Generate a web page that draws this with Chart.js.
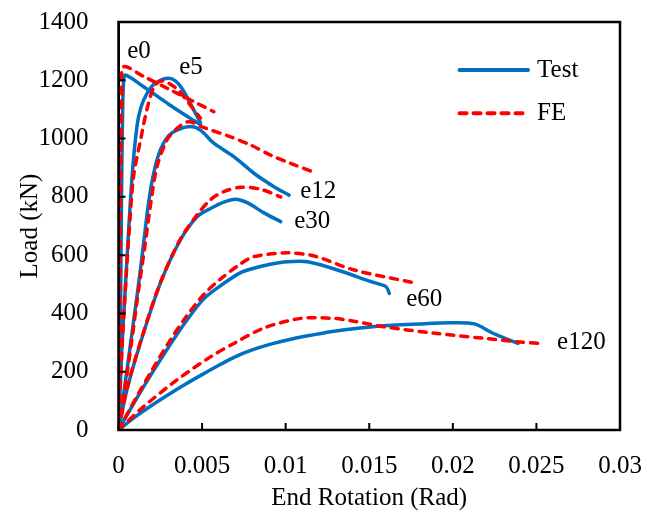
<!DOCTYPE html>
<html><head><meta charset="utf-8">
<script src="https://cdn.jsdelivr.net/npm/chart.js@4.4.0/dist/chart.umd.min.js"></script>
<style>html,body{margin:0;padding:0;background:#fff;}</style>
</head><body>
<canvas id="c" width="653" height="519"></canvas>
<script>
// ---- data (End Rotation [rad], Load [kN]) ----
const specimens = ['e0', 'e5', 'e12', 'e30', 'e60', 'e120'];
const seriesNames = ['Test', 'FE'];
const xTicks = [0, 0.005, 0.01, 0.015, 0.02, 0.025, 0.03];
const yTicks = [0, 200, 400, 600, 800, 1000, 1200, 1400];

const testE0 = [[0,0],[0.0001,300],[0.00015,600],[0.0002,900],[0.00025,1100],[0.0003,1190],[0.0004,1218],[0.0015,1178],[0.003,1118],[0.0045,1062],[0.0049,1048]];
const testE5 = [[0,0],[0.0002,280],[0.0004,480],[0.0006,680],[0.0008,860],[0.001,990],[0.0012,1075],[0.0015,1132],[0.002,1180],[0.0025,1200],[0.003,1207],[0.0034,1198],[0.0038,1172],[0.0043,1120],[0.0049,1055]];
const testE12 = [[0,0],[0.0004,160],[0.0008,330],[0.0012,500],[0.0015,640],[0.0018,780],[0.0021,880],[0.0025,961],[0.003,1010],[0.0035,1029],[0.0043,1041],[0.0049,1029],[0.0057,984],[0.0069,938],[0.0081,881],[0.0093,835],[0.0102,806]];
const testE30 = [[0,0],[0.0005,137],[0.0013,297],[0.0025,503],[0.0037,652],[0.0047,732],[0.0055,760],[0.0063,782],[0.007,792],[0.0077,780],[0.0087,745],[0.0097,715]];
const testE60 = [[0,0],[0.001,100],[0.002,195],[0.003,285],[0.004,370],[0.0051,450],[0.0061,495],[0.0073,540],[0.0081,555],[0.009,568],[0.0101,577],[0.0113,577],[0.0131,549],[0.0151,509],[0.016,492],[0.0162,469]];
const testE120 = [[0,0],[0.001,45],[0.002,85],[0.003,122],[0.004,157],[0.005,190],[0.006,222],[0.007,252],[0.008,275],[0.009,293],[0.0101,309],[0.0115,325],[0.013,340],[0.0155,356],[0.018,364],[0.0199,368],[0.0213,364],[0.0224,332],[0.0239,297]];

const feE0 = [[0,0],[0.00005,300],[0.0001,650],[0.00015,950],[0.0002,1150],[0.0003,1246],[0.0015,1213],[0.003,1170],[0.0045,1127],[0.0057,1092]];
const feE5 = [[0,0],[0.0002,270],[0.0004,470],[0.0006,650],[0.0009,870],[0.0013,990],[0.0017,1100],[0.0021,1175],[0.0025,1197],[0.003,1190],[0.0036,1165],[0.0042,1122],[0.0049,1070]];
const feE12 = [[0,0],[0.0004,150],[0.0008,310],[0.0012,480],[0.0016,640],[0.0019,766],[0.0023,903],[0.0029,995],[0.0035,1035],[0.0042,1058],[0.005,1040],[0.0067,1006],[0.0079,978],[0.0091,943],[0.0103,915],[0.0116,886]];
const feE30 = [[0,0],[0.0005,140],[0.0013,300],[0.0025,505],[0.0037,655],[0.0047,738],[0.0055,790],[0.0063,818],[0.0073,833],[0.0085,826],[0.0097,800]];
const feE60 = [[0,0],[0.001,105],[0.002,205],[0.003,300],[0.004,385],[0.0051,465],[0.0061,518],[0.0073,570],[0.0081,595],[0.0101,608],[0.0117,597],[0.0141,549],[0.0177,505]];
const feE120 = [[0,0],[0.0015,80],[0.0035,172],[0.0055,251],[0.0069,297],[0.0087,350],[0.0109,383],[0.0129,383],[0.0139,375],[0.0159,354],[0.0189,332],[0.0218,315],[0.0238,303],[0.0252,297]];

// annotation anchors (data units) for the specimen labels
const labelX = [0.00123, 0.00434, 0.01195, 0.01159, 0.01829, 0.02769];
const labelY = [1300, 1245, 820, 717, 449, 302];

const testSeries = [testE0, testE5, testE12, testE30, testE60, testE120];
const feSeries = [feE0, feE5, feE12, feE30, feE60, feE120];

const FONT = "'Liberation Serif', 'Times New Roman', serif";
const BLUE = '#0070C0';
const RED = '#FF0000';

const toPts = arr => arr.map(p => ({x: p[0], y: p[1]}));
const datasets = [];
testSeries.forEach((s, i) => datasets.push({
  label: seriesNames[0] + ' ' + specimens[i], legendName: i === 0 ? seriesNames[0] : null,
  data: toPts(s), borderColor: BLUE, borderWidth: 3.5, pointRadius: 0, tension: 0.3,
  fill: false, order: 2, borderCapStyle: 'round', borderJoinStyle: 'round'
}));
feSeries.forEach((s, i) => datasets.push({
  label: seriesNames[1] + ' ' + specimens[i], legendName: i === 0 ? seriesNames[1] : null,
  data: toPts(s), borderColor: RED, borderWidth: 3.5, borderDash: [7, 7], pointRadius: 0, tension: 0.3,
  fill: false, order: 1, borderCapStyle: 'round'
}));

const decor = {
  id: 'decor',
  afterDatasetsDraw(chart) {
    const ctx = chart.ctx, a = chart.chartArea, xs = chart.scales.x, ys = chart.scales.y;
    ctx.save();
    ctx.strokeStyle = '#000'; ctx.lineWidth = 2.5;
    ctx.strokeRect(a.left, a.top, a.right - a.left, a.bottom - a.top);
    ctx.lineWidth = 2;
    ctx.beginPath();
    xTicks.forEach(v => { const px = xs.getPixelForValue(v); ctx.moveTo(px, a.bottom); ctx.lineTo(px, a.bottom - 7); });
    yTicks.forEach(v => { const py = ys.getPixelForValue(v); ctx.moveTo(a.left, py); ctx.lineTo(a.left + 7, py); });
    ctx.stroke();
    // specimen labels
    ctx.fillStyle = '#000'; ctx.font = '25px ' + FONT; ctx.textAlign = 'center'; ctx.textBaseline = 'middle';
    specimens.forEach((t, i) => ctx.fillText(t, xs.getPixelForValue(labelX[i]), ys.getPixelForValue(labelY[i])));
    // legend
    const items = chart.data.datasets.filter(d => d.legendName);
    const lx0 = xs.getPixelForValue(0.0204), lx1 = xs.getPixelForValue(0.0245);
    items.forEach((d, k) => {
      const ly = ys.getPixelForValue(1235 - k * 148);
      ctx.beginPath(); ctx.strokeStyle = d.borderColor; ctx.lineWidth = d.borderWidth + 0.5;
      ctx.lineCap = 'round'; ctx.setLineDash(d.borderDash || []);
      ctx.moveTo(lx0, ly); ctx.lineTo(lx1, ly); ctx.stroke(); ctx.setLineDash([]);
      ctx.textAlign = 'left'; ctx.fillStyle = '#000';
      ctx.fillText(d.legendName, lx1 + 9, ly);
    });
    ctx.restore();
  }
};

new Chart(document.getElementById('c'), {
  type: 'line',
  data: { datasets },
  plugins: [decor],
  options: {
    responsive: false, animation: false, devicePixelRatio: 1,
    layout: { padding: { top: 22, right: 33, left: 0, bottom: 0 } },
    plugins: { legend: { display: false }, tooltip: { enabled: false } },
    scales: {
      x: {
        type: 'linear', min: 0, max: 0.03,
        afterBuildTicks: s => { s.ticks = xTicks.map(v => ({value: v})); },
        afterFit: s => { s.height = 89; s.paddingLeft = 0; s.paddingRight = 0; },
        ticks: { font: { family: FONT, size: 25 }, color: '#000', padding: 13, maxRotation: 0,
          callback: v => String(+(+v).toFixed(4)) },
        grid: { display: false },
        border: { display: true, color: '#000', width: 2 },
        title: { display: true, text: 'End Rotation (Rad)', color: '#000', font: { family: FONT, size: 25 }, padding: { top: 0, bottom: 6 } }
      },
      y: {
        type: 'linear', min: 0, max: 1400,
        afterBuildTicks: s => { s.ticks = yTicks.map(v => ({value: v})); },
        afterFit: s => { s.width = 118.5; s.paddingTop = 0; s.paddingBottom = 0; },
        ticks: { font: { family: FONT, size: 25 }, color: '#000', padding: 22, callback: v => String(v) },
        grid: { display: false },
        border: { display: true, color: '#000', width: 2 },
        title: { display: true, text: 'Load (kN)', color: '#000', font: { family: FONT, size: 25 }, padding: { top: 15, bottom: 0 } }
      }
    }
  }
});
</script>
</body></html>
